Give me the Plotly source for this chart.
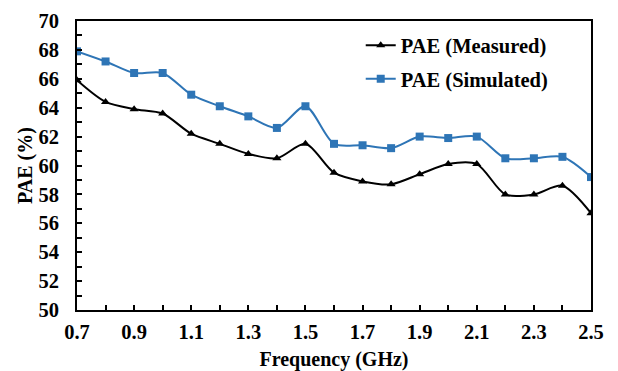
import plotly.graph_objects as go

freq = [0.7, 0.8, 0.9, 1.0, 1.1, 1.2, 1.3, 1.4, 1.5, 1.6, 1.7, 1.8, 1.9, 2.0, 2.1, 2.2, 2.3, 2.4, 2.5]
pae_measured = [65.9, 64.4, 63.9, 63.6, 62.2, 61.5, 60.8, 60.5, 61.5, 59.5, 58.9, 58.7, 59.4, 60.1, 60.1, 58.0, 58.0, 58.6, 56.7]
pae_simulated = [67.9, 67.2, 66.4, 66.4, 64.9, 64.1, 63.4, 62.6, 64.1, 61.5, 61.4, 61.2, 62.0, 61.9, 62.0, 60.5, 60.5, 60.6, 59.2]

FONT = "Liberation Serif"
BLUE = "#2E75B6"
FS = 20.5

fig = go.Figure()
fig.add_trace(go.Scatter(
    x=freq, y=pae_measured, name="<b>PAE (Measured)</b>", mode="lines+markers",
    line=dict(color="black", width=2, shape="spline", smoothing=0.8),
    marker=dict(symbol="triangle-up", size=8, color="black"),
    legendgroup="a",
))
fig.add_trace(go.Scatter(
    x=freq, y=pae_simulated, name="<b>PAE (Simulated)</b>", mode="lines+markers",
    line=dict(color=BLUE, width=2, shape="spline", smoothing=0.8),
    marker=dict(symbol="square", size=8, color=BLUE),
    legendgroup="b",
))

axis_common = dict(
    showline=True, linecolor="black", linewidth=2, mirror=True,
    ticks="inside", ticklen=5, tickwidth=2, tickcolor="black",
    showgrid=False, zeroline=False, automargin=False,
    tickfont=dict(family=FONT, size=FS, color="black", weight="bold"),
)

fig.update_xaxes(
    range=[0.7, 2.5], dtick=0.2, tick0=0.7, tickformat=".1f",
    minor=dict(dtick=0.1, tick0=0.7, ticks="inside", ticklen=5, tickwidth=2, tickcolor="black"),
    ticklabelstandoff=2,
    title=dict(text="<b>Frequency (GHz)</b>", font=dict(family=FONT, size=20, color="black"), standoff=18),
    **axis_common,
)
fig.update_yaxes(
    range=[50, 70], dtick=2,
    minor=dict(dtick=1, ticks="inside", ticklen=5, tickwidth=2, tickcolor="black"),
    ticklabelstandoff=12,
    title=dict(text="<b>PAE (%)</b>", font=dict(family=FONT, size=20, color="black"), standoff=0),
    **axis_common,
)

fig.update_layout(
    width=618, height=371,
    margin=dict(l=77, r=27, t=21, b=61),
    paper_bgcolor="white", plot_bgcolor="white",
    showlegend=True,
    legend=dict(
        x=0.552, y=0.985, xanchor="left", yanchor="top",
        font=dict(family=FONT, size=FS, color="black"),
        bgcolor="rgba(0,0,0,0)", tracegroupgap=4, traceorder="grouped",
    ),
)

fig.write_html("out.html")
